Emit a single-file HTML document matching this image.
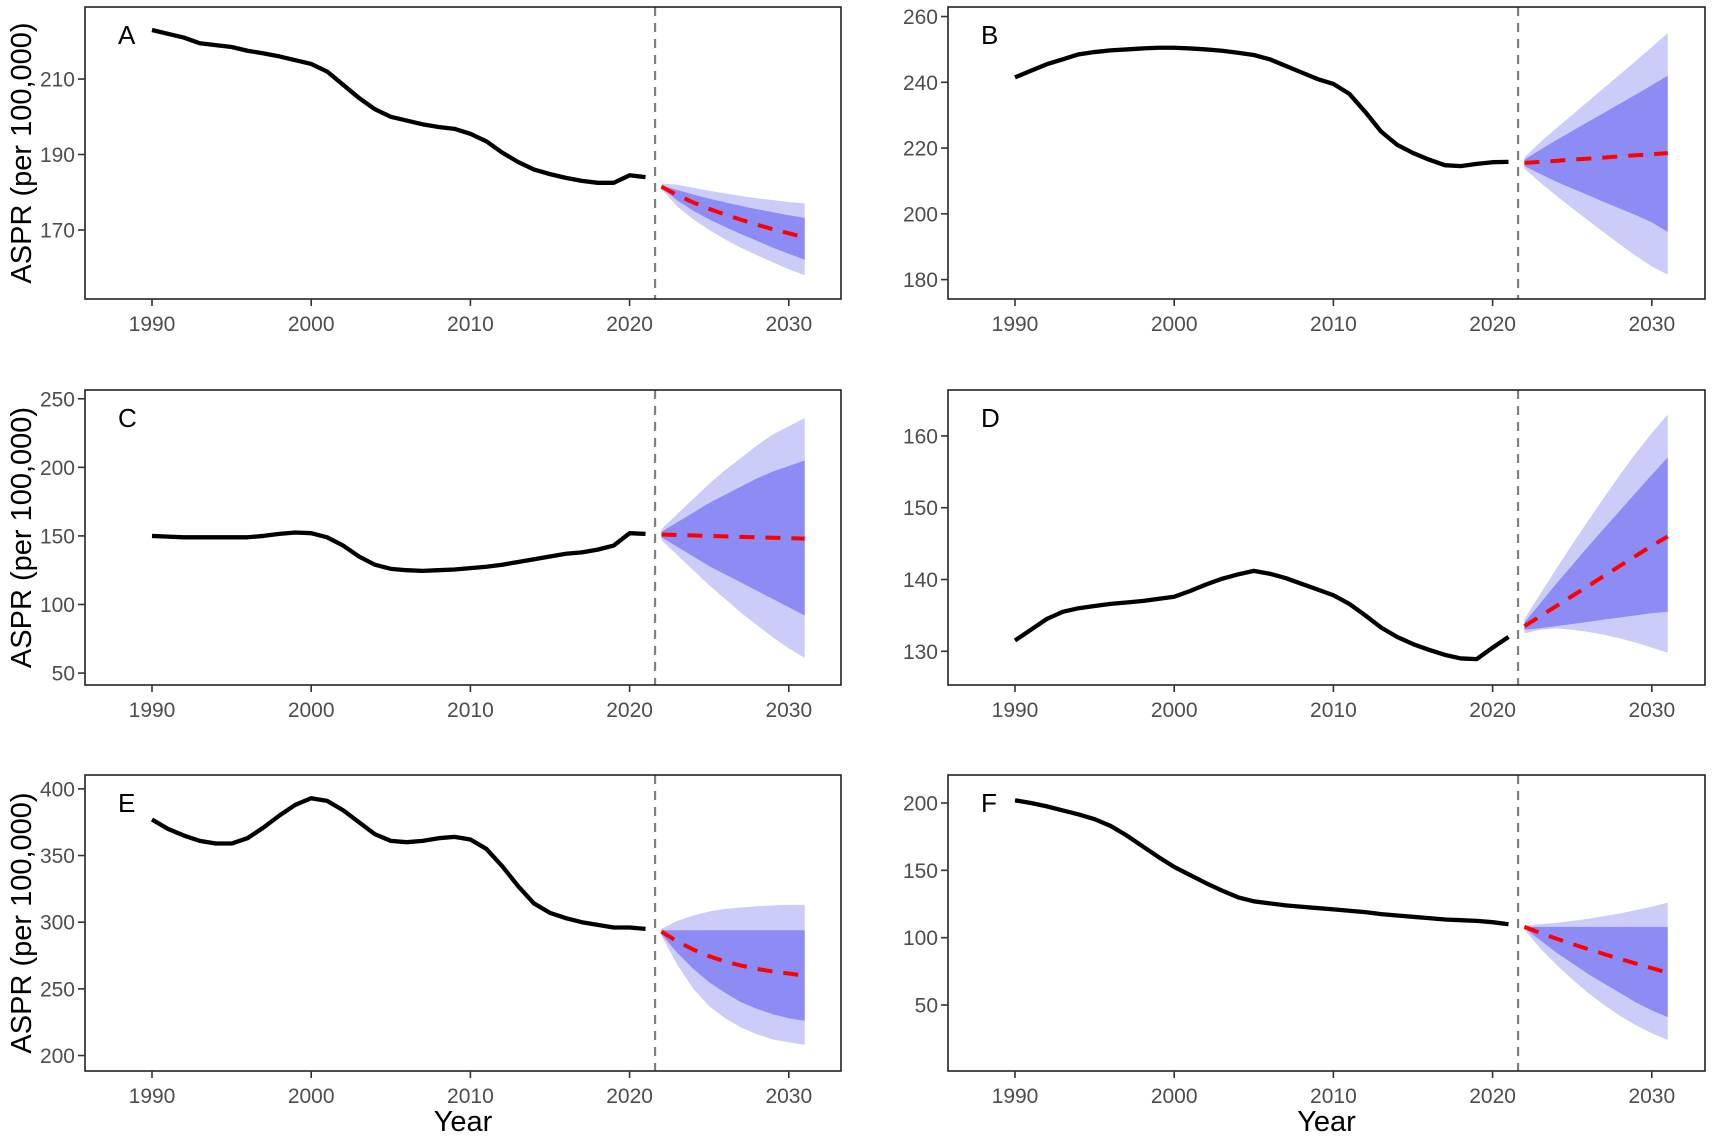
<!DOCTYPE html>
<html><head><meta charset="utf-8"><style>
body{margin:0;background:#fff}
svg{display:block;font-family:"Liberation Sans",sans-serif}
</style></head><body>
<svg id="chart" width="1713" height="1138" viewBox="0 0 1713 1138" xmlns="http://www.w3.org/2000/svg"></svg>
<script>
const years = [1990,1991,1992,1993,1994,1995,1996,1997,1998,1999,2000,2001,2002,2003,2004,2005,2006,2007,2008,2009,2010,2011,2012,2013,2014,2015,2016,2017,2018,2019,2020,2021];
const fyears = [2022,2023,2024,2025,2026,2027,2028,2029,2030,2031];
const xTicks = [1990,2000,2010,2020,2030];
const panelLabels = ["A","B","C","D","E","F"];
const yTicksA=[170,190,210], yTicksB=[180,200,220,240,260], yTicksC=[50,100,150,200,250], yTicksD=[130,140,150,160], yTicksE=[200,250,300,350,400], yTicksF=[50,100,150,200];
const histA=[223,222,221,219.5,219,218.5,217.5,216.8,216,215,214,212,208.5,205,202,200,199,198,197.3,196.8,195.5,193.5,190.5,188,186,184.8,183.8,183,182.5,182.5,184.5,184];
const meanA=[181.5,179.2,177.3,175.6,174.1,172.7,171.4,170.2,169.1,168];
const in_upA=[181.8,180.6,179.4,178.3,177.3,176.4,175.5,174.7,173.9,173.2];
const in_loA=[181.2,177.8,175.1,172.8,170.8,168.9,167.1,165.3,163.7,162.1];
const out_upA=[182.3,182,181.2,180.4,179.7,179,178.4,177.9,177.4,177];
const out_loA=[180.8,176.2,172.8,170,167.5,165.3,163.3,161.4,159.6,158];
const histB=[241.5,243.5,245.5,247,248.5,249.2,249.7,250,250.3,250.5,250.5,250.3,250,249.6,249,248.3,247,245,243,241,239.5,236.5,231,225,221,218.5,216.5,214.8,214.5,215.2,215.7,215.8];
const meanB=[215.5,215.8,216.1,216.5,216.8,217.1,217.5,217.8,218.1,218.5];
const in_upB=[216.5,219.5,222.4,225.2,228,230.7,233.5,236.3,239.1,242];
const in_loB=[214.5,212.1,209.8,207.7,205.7,203.6,201.6,199.6,197.4,194.5];
const out_upB=[217.2,221.8,226,230.1,234.2,238.3,242.4,246.5,250.7,255];
const out_loB=[213.8,209.5,205.5,201.7,198,194.3,190.7,187.2,184,181.5];
const histC=[150,149.5,149,149,149,149,149,150,151.5,152.5,152,149,143,135,129,126,125,124.5,125,125.5,126.5,127.5,129,131,133,135,137,138,140,143,152,151.5];
const meanC=[151,150.7,150.4,150,149.7,149.3,149,148.7,148.4,148];
const in_upC=[153,160,167,174,180,186,192,197,201,205];
const in_loC=[149,142,135,128,122,116,110,104,98,92];
const out_upC=[155,166,177,188,198,207,216,224,230,236];
const out_loC=[147,136,125,114,104,94,85,76,68,61];
const histD=[131.5,133,134.5,135.5,136,136.3,136.6,136.8,137,137.3,137.6,138.4,139.3,140.1,140.7,141.2,140.8,140.2,139.4,138.6,137.8,136.6,135,133.3,132,131,130.2,129.5,129,128.9,130.5,132];
const meanD=[133.5,134.9,136.3,137.7,139.1,140.5,141.9,143.3,144.7,146];
const in_upD=[134,136.7,139.4,142,144.6,147.1,149.6,152.1,154.6,157];
const in_loD=[133,133.2,133.5,133.8,134.1,134.4,134.7,135,135.3,135.5];
const out_upD=[134.5,138,141.5,144.9,148.2,151.4,154.6,157.6,160.4,163];
const out_loD=[132.5,133,133.2,133,132.7,132.3,131.8,131.2,130.5,129.8];
const histE=[377,370,365,361,359,359,363,371,380,388,393,391,384,375,366,361,360,361,363,364,362,355,342,327,314,307,303,300,298,296,296,295];
const meanE=[293,285.5,279.5,274.5,270.5,267.5,265,263,261.5,260];
const in_upE=[294,294,294,294,294,294,294,294,294,294];
const in_loE=[291,277,265,255,247,240,235,231,228,226];
const out_upE=[295,301,305,308,310,311,312,312.5,313,313];
const out_loE=[290,268,250,237,228,221,216,212,210,208];
const histF=[202,200,197.5,194.5,191.5,188,183,176,168,160,152.5,146.5,140.5,135,130,127,125.5,124,123,122,121,120,119,117.5,116.5,115.5,114.5,113.5,113,112.5,111.5,110];
const meanF=[108,103.5,99.3,95.3,91.5,87.8,84.2,80.8,77.4,74];
const in_upF=[108,108,108,108,108,108,108,108,108,108];
const in_loF=[107,98,89,81,73,66,59,52,46,41];
const out_upF=[109,110,111,112.5,114,116,118,120.5,123,126];
const out_loF=[106,92,80,69,59,50,42,35,29,24];

const NS="http://www.w3.org/2000/svg";
const svg=document.getElementById('chart');
function mk(tag,attrs,parent){const e=document.createElementNS(NS,tag);for(const k in attrs)e.setAttribute(k,attrs[k]);(parent||svg).appendChild(e);return e;}

const panels=[
 {box:[85,7,841,299],dom:[151.7,229.1],ticks:yTicksA,h:histA,m:meanA,iu:in_upA,il:in_loA,ou:out_upA,ol:out_loA},
 {box:[948,7,1705,299],dom:[174.1,262.9],ticks:yTicksB,h:histB,m:meanB,iu:in_upB,il:in_loB,ou:out_upB,ol:out_loB},
 {box:[85,390,841,685],dom:[41.3,256.4],ticks:yTicksC,h:histC,m:meanC,iu:in_upC,il:in_loC,ou:out_upC,ol:out_loC},
 {box:[948,390,1705,685],dom:[125.3,166.4],ticks:yTicksD,h:histD,m:meanD,iu:in_upD,il:in_loD,ou:out_upD,ol:out_loD},
 {box:[85,775,841,1071],dom:[188.4,410.4],ticks:yTicksE,h:histE,m:meanE,iu:in_upE,il:in_loE,ou:out_upE,ol:out_loE},
 {box:[948,775,1705,1071],dom:[1,220.8],ticks:yTicksF,h:histF,m:meanF,iu:in_upF,il:in_loF,ou:out_upF,ol:out_loF}
];

panels.forEach((p,i)=>{
  const [x0,y0,x1,y1]=p.box;
  const g=mk('g',{});
  
  
  const xs=v=>x0+67+(v-1990)*15.92;
  const ys=v=>y1-(v-p.dom[0])/(p.dom[1]-p.dom[0])*(y1-y0);
  const band=(up,lo,fill,name)=>{
    let d='';fyears.forEach((yr,k)=>{d+=(k?'L':'M')+xs(yr)+','+ys(up[k]);});
    for(let k=fyears.length-1;k>=0;k--)d+='L'+xs(fyears[k])+','+ys(lo[k]);
    const e=mk('path',{d:d+'Z',fill:fill},g);
    
    
  };
  band(p.ou,p.ol,'#ccccf8','outer-interval-band');
  band(p.iu,p.il,'#8c8cf4','inner-interval-band');
  let d='';years.forEach((yr,k)=>{d+=(k?'L':'M')+xs(yr)+','+ys(p.h[k]);});
  const hl=mk('path',{d:d,fill:'none',stroke:'#000','stroke-width':4.3,'stroke-linejoin':'round'},g);
  
  
  d='';fyears.forEach((yr,k)=>{d+=(k?'L':'M')+xs(yr)+','+ys(p.m[k]);});
  const fl=mk('path',{d:d,fill:'none',stroke:'#ff0000','stroke-width':4,'stroke-dasharray':'15,11'},g);
  
  
  const vl=mk('line',{x1:xs(2021.6),x2:xs(2021.6),y1:y0,y2:y1,stroke:'#7f7f7f','stroke-width':2.2,'stroke-dasharray':'9,7'},g);
  
  
  const fr=mk('rect',{x:x0,y:y0,width:x1-x0,height:y1-y0,fill:'none',stroke:'#222','stroke-width':1.6},g);
  
  
  xTicks.forEach(t=>{
    mk('line',{x1:xs(t),x2:xs(t),y1:y1,y2:y1+7,stroke:'#333','stroke-width':1.6},g);
    const tx=mk('text',{x:xs(t),y:y1+32,'text-anchor':'middle','font-size':21,fill:'#4d4d4d'},g);
    tx.textContent=t;
    
    
  });
  p.ticks.forEach(t=>{
    mk('line',{x1:x0-7,x2:x0,y1:ys(t),y2:ys(t),stroke:'#333','stroke-width':1.6},g);
    const tx=mk('text',{x:x0-10,y:ys(t)+7.5,'text-anchor':'end','font-size':21,fill:'#4d4d4d'},g);
    tx.textContent=t;
    
    
  });
  const lb=mk('text',{x:x0+33,y:y0+37,'font-size':26,fill:'#000'},g);
  lb.textContent=panelLabels[i];
  
  
  if(i%2===0){
    const yt=mk('text',{x:0,y:0,'text-anchor':'middle','font-size':29,fill:'#000',transform:'translate(31,'+((y0+y1)/2)+') rotate(-90)'},g);
    yt.textContent='ASPR (per 100,000)';
    
    
  }
  if(i>=4){
    const xt=mk('text',{x:(x0+x1)/2,y:1131,'text-anchor':'middle','font-size':29,fill:'#000'},g);
    xt.textContent='Year';
    
    
  }
});
</script>
</body></html>
